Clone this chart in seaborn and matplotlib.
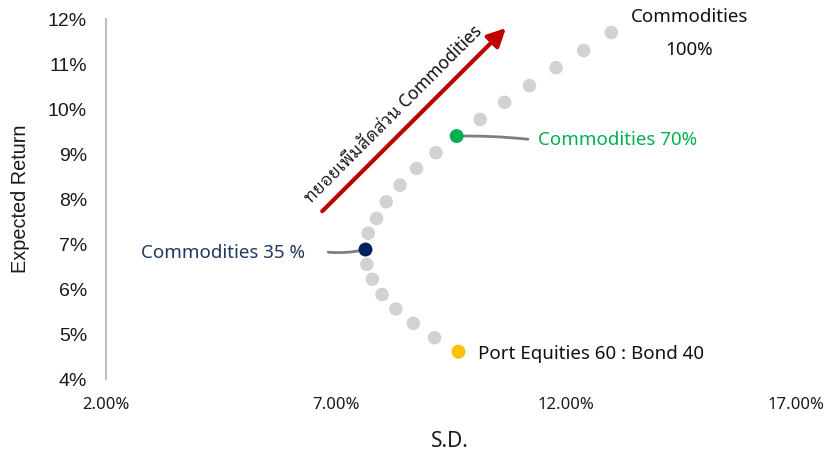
import matplotlib
matplotlib.use("Agg")
import matplotlib.pyplot as plt
import seaborn as sns
import pandas as pd
from matplotlib.ticker import FuncFormatter

# Commodities weight (%) and resulting portfolio risk / return (%)
weights = [0, 5, 10, 15, 20, 25, 30, 35, 40, 45, 50, 55, 60, 65, 70, 75, 80, 85, 90, 95, 100]
sd = [9.66, 9.14, 8.68, 8.30, 8.00, 7.79, 7.67, 7.64, 7.70, 7.88, 8.09, 8.39, 8.75, 9.17,
      9.62, 10.13, 10.66, 11.20, 11.78, 12.38, 12.98]
ret = [4.61, 4.92, 5.24, 5.56, 5.88, 6.22, 6.55, 6.88, 7.24, 7.57, 7.94, 8.31, 8.68, 9.03,
       9.40, 9.77, 10.15, 10.52, 10.92, 11.30, 11.70]

highlight_weights = [0, 35, 70]
highlight_colors = ["#FFC000", "#002060", "#00B050"]

x_ticks = [2, 7, 12, 17]
y_ticks = [4, 5, 6, 7, 8, 9, 10, 11, 12]

df = pd.DataFrame({"weight": weights, "sd": sd, "ret": ret})
hl = df[df["weight"].isin(highlight_weights)].copy()
hl["label"] = hl["weight"].astype(str)
palette = {str(w): c for w, c in zip(highlight_weights, highlight_colors)}

sns.set_theme(style="white")
plt.rcParams["font.family"] = ["Noto Sans", "IBM Plex Sans Thai Looped", "Sarabun", "DejaVu Sans"]

fig = plt.figure(figsize=(8.27, 4.53), dpi=100)
ax = fig.add_axes([0.128, 0.163, 0.835, 0.795])

sns.scatterplot(data=df, x="sd", y="ret", color="#D2D2D2", s=95, edgecolor="none",
                legend=False, ax=ax, zorder=3)
sns.scatterplot(data=hl, x="sd", y="ret", hue="label", palette=palette, s=100,
                edgecolor="none", legend=False, ax=ax, zorder=4)

ax.set_xlim(2, 17)
ax.set_ylim(4, 12)
ax.set_xticks(x_ticks)
ax.set_yticks(y_ticks)
ax.xaxis.set_major_formatter(FuncFormatter(lambda v, p: f"{v:.2f}%"))
ax.yaxis.set_major_formatter(FuncFormatter(lambda v, p: f"{v:.0f}%"))

for side in ["top", "right", "bottom"]:
    ax.spines[side].set_visible(False)
ax.spines["left"].set_color("#BFBFBF")
ax.spines["left"].set_linewidth(1.5)
ax.tick_params(axis="both", length=0)
ax.tick_params(axis="x", pad=13, labelsize=12, labelcolor="#1A1A1A")
ax.tick_params(axis="y", pad=13.5, labelsize=14, labelcolor="#1A1A1A")
for lab in ax.get_yticklabels():
    lab.set_family("Liberation Sans")

ax.set_xlabel("S.D.", fontsize=15, color="#1A1A1A", va="center")
ax.xaxis.set_label_coords(0.4986, -0.172)
ax.set_ylabel("Expected Return", fontsize=14.3, color="#1A1A1A", family="Liberation Sans", va="center")
ax.yaxis.set_label_coords(-0.123, 0.5)
ax.grid(False)

# labelled portfolios
by_w = df.set_index("weight")
p0, p35, p70, p100 = by_w.loc[0], by_w.loc[35], by_w.loc[70], by_w.loc[100]
label_size = 13.5

ax.text(p0["sd"] + 0.43, p0["ret"] - 0.05, "Port Equities 60 : Bond 40", fontsize=label_size,
        color="#111111", va="center", ha="left")

ax.annotate("", xy=(p70["sd"], p70["ret"]), xytext=(11.17, 9.33),
            arrowprops=dict(arrowstyle="-", color="#7F7F7F", lw=2, shrinkA=0, shrinkB=0,
                            connectionstyle="arc3,rad=0.03"))
ax.text(11.39, 9.31, "Commodities 70%", fontsize=label_size, color="#00B050", va="center", ha="left")

ax.annotate("", xy=(p35["sd"], p35["ret"]), xytext=(6.83, 6.82),
            arrowprops=dict(arrowstyle="-", color="#7F7F7F", lw=2, shrinkA=0, shrinkB=0,
                            connectionstyle="arc3,rad=0.08"))
ax.text(6.33, 6.81, "Commodities 35 %", fontsize=label_size, color="#1F3864", va="center", ha="right")

ax.text(p100["sd"] + 1.69, 12.04, "Commodities", fontsize=label_size, color="#111111",
        ha="center", va="center")
ax.text(p100["sd"] + 1.69, 11.31, "100%", fontsize=label_size, color="#111111",
        ha="center", va="center")

# direction of increasing commodities allocation
ax.annotate("", xy=(10.69, 11.80), xytext=(6.70, 7.73),
            arrowprops=dict(arrowstyle="-|>,head_length=0.9,head_width=0.45", color="#C00000",
                            lw=3, shrinkA=0, shrinkB=0), annotation_clip=False)
ax.text(8.33, 9.80, "ทยอยเพิ่มสัดส่วน Commodities", fontsize=12.5, color="#111111",
        rotation=45, rotation_mode="anchor", ha="center", va="baseline")

fig.savefig("out.png", dpi=100)
